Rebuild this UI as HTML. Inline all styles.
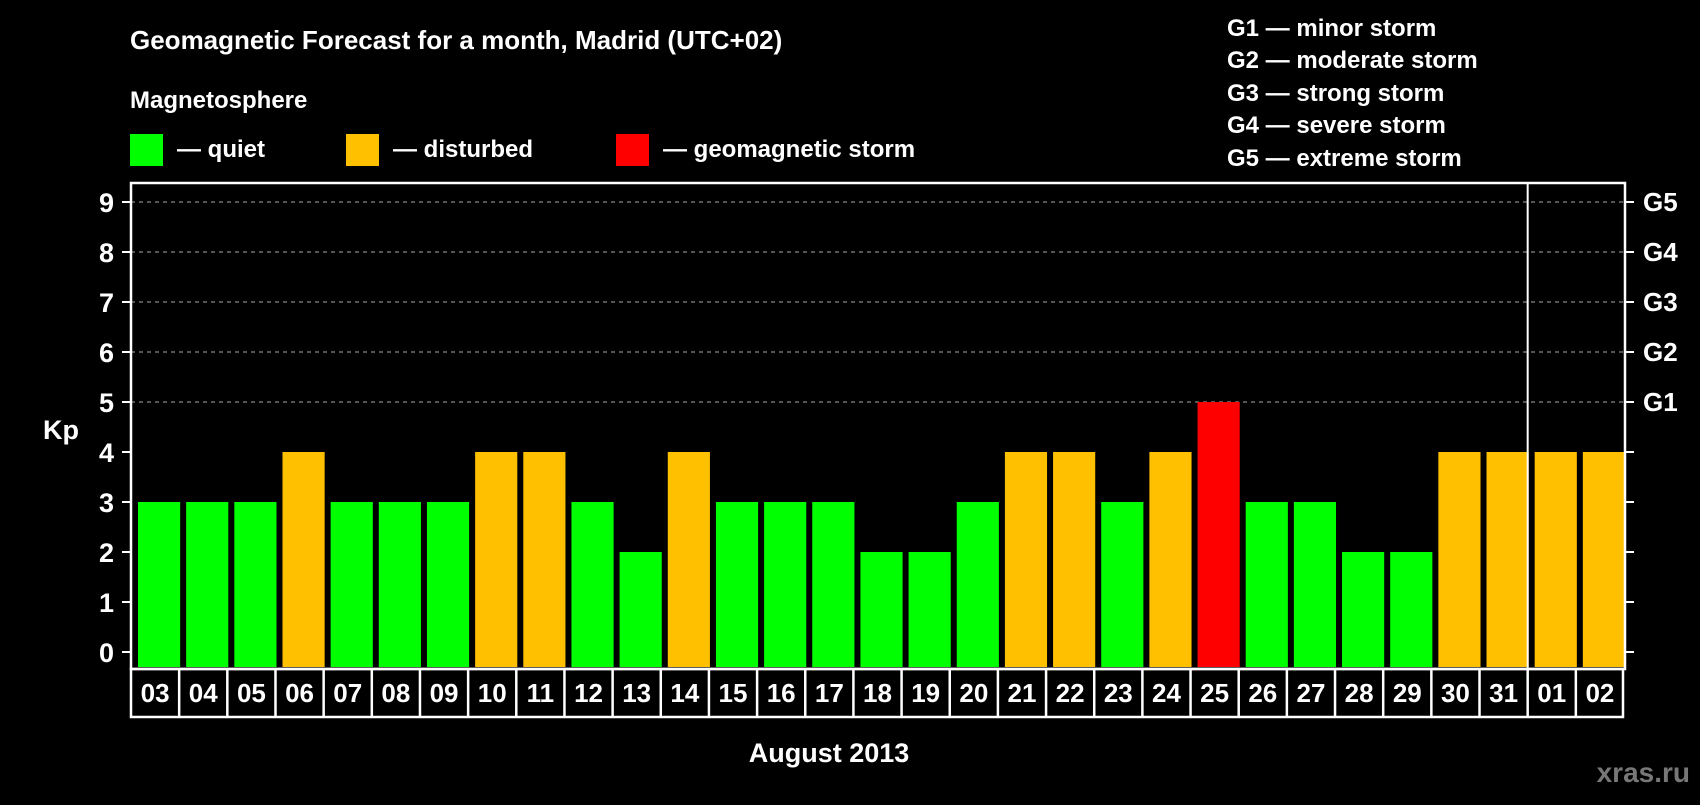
<!DOCTYPE html>
<html><head><meta charset="utf-8"><style>
body{margin:0;background:#000;width:1700px;height:800px;overflow:hidden}
svg text{font-family:"Liberation Sans",Arial,sans-serif;font-weight:bold;fill:#fff}
</style></head><body>
<svg id="chart" width="1700" height="800" xmlns="http://www.w3.org/2000/svg">
<rect width="1700" height="800" fill="#000"/>
<text x="130" y="49" font-size="26">Geomagnetic Forecast for a month, Madrid (UTC+02)</text>
<text x="130" y="108" font-size="24">Magnetosphere</text>
<g>
<rect x="130" y="134" width="33" height="32" fill="#00ff00"/>
<text x="177" y="157" font-size="24">— quiet</text>
<rect x="346" y="134" width="33" height="32" fill="#ffc000"/>
<text x="393" y="157" font-size="24">— disturbed</text>
<rect x="616" y="134" width="33" height="32" fill="#ff0000"/>
<text x="663" y="157" font-size="24">— geomagnetic storm</text>
</g>
<g font-size="24">
<text x="1227" y="36">G1 — minor storm</text>
<text x="1227" y="68">G2 — moderate storm</text>
<text x="1227" y="101">G3 — strong storm</text>
<text x="1227" y="133">G4 — severe storm</text>
<text x="1227" y="166">G5 — extreme storm</text>
</g>
<text x="43" y="439" font-size="27">Kp</text>
<text x="829" y="762" font-size="27" text-anchor="middle">August 2013</text>
<text x="1690" y="782" font-size="28" fill="#777" style="fill:#777" text-anchor="end">xras.ru</text>
<g id="grid"></g><g id="bars"></g><g id="axes"></g>
</svg>
<script>
const days=["03","04","05","06","07","08","09","10","11","12","13","14","15","16","17","18","19","20","21","22","23","24","25","26","27","28","29","30","31","01","02"];
const kp=[3,3,3,4,3,3,3,4,4,3,2,4,3,3,3,2,2,3,4,4,3,4,5,3,3,2,2,4,4,4,4];
const yTicks=[0,1,2,3,4,5,6,7,8,9];
const gLabels=["G1","G2","G3","G4","G5"];
const gLevels=[5,6,7,8,9];
const NS="http://www.w3.org/2000/svg";
const L=131,R=1625,T=183,B=669,Y0=652,U=50;
const colW=(R-L-1)/days.length;
const y=v=>Y0-v*U;
const x=i=>L+3+i*colW;
function mk(t,a,p){const e=document.createElementNS(NS,t);for(const k in a)e.setAttribute(k,a[k]);p.appendChild(e);return e;}
const grid=document.getElementById('grid'),bars=document.getElementById('bars'),axes=document.getElementById('axes');
gLevels.forEach((v,i)=>{
 const g=mk('line',{x1:L,x2:R,y1:y(v),y2:y(v),stroke:'#888','stroke-width':1.3,'stroke-dasharray':'4,4'},grid);
 
 
 const t=mk('text',{x:1643,y:y(v)+9,'font-size':26},axes);t.textContent=gLabels[i];
 
 
});
kp.forEach((v,i)=>{
 const c=v>=5?'#ff0000':v>=4?'#ffc000':'#00ff00';
 const b=mk('rect',{x:x(i)+4,y:y(v),width:colW-6,height:B-2-y(v),fill:c},bars);
 
 
 const cx=L+i*colW;
 if(i>0){const s=mk('line',{x1:cx,x2:cx,y1:B,y2:717,stroke:'#fff','stroke-width':2.5},axes);
 
 }
 const t=mk('text',{x:cx+colW/2,y:702,'font-size':26,'text-anchor':'middle'},axes);t.textContent=days[i];
 
 
});
yTicks.forEach(v=>{
 const t=mk('text',{x:114,y:y(v)+10,'font-size':27,'text-anchor':'end'},axes);t.textContent=v;
 
 
 const a=mk('line',{x1:122,x2:L,y1:y(v),y2:y(v),stroke:'#fff','stroke-width':2},axes);
 
 
 const b=mk('line',{x1:R,x2:R+9,y1:y(v),y2:y(v),stroke:'#fff','stroke-width':2},axes);
 
 
});
const f=mk('rect',{x:L,y:T,width:R-L,height:B-T,fill:'none',stroke:'#fff','stroke-width':2.5},axes);


const lb=mk('rect',{x:L,y:B,width:R-L-2,height:717-B,fill:'none',stroke:'#fff','stroke-width':2.5},axes);


const sx=L+29*colW;
const ms=mk('line',{x1:sx,x2:sx,y1:T,y2:B,stroke:'#fff','stroke-width':2},axes);


</script>
</body></html>
